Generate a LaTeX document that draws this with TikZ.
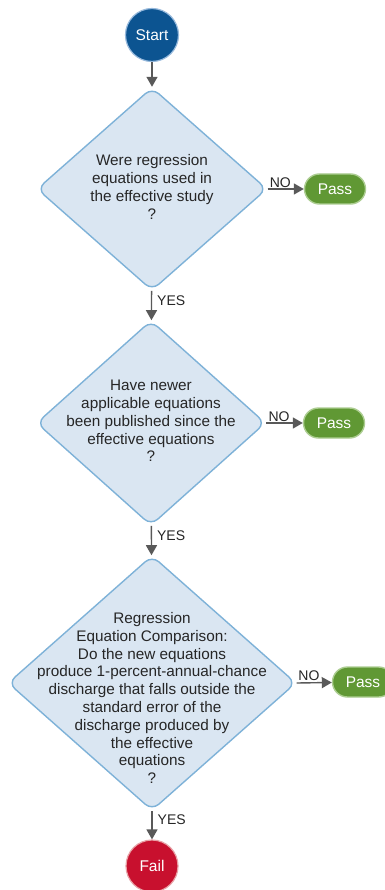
\documentclass[tikz,border=0pt]{standalone}
\usepackage{fontspec}
\setmainfont{Liberation Sans}
\usetikzlibrary{shapes.geometric,shapes.misc,arrows.meta}
\definecolor{startblue}{RGB}{12,84,145}
\definecolor{startedge}{RGB}{150,185,220}
\definecolor{qfill}{RGB}{218,230,242}
\definecolor{qedge}{RGB}{126,178,216}
\definecolor{passgreen}{RGB}{96,152,52}
\definecolor{passedge}{RGB}{172,205,145}
\definecolor{failred}{RGB}{200,16,46}
\definecolor{failedge}{RGB}{232,160,165}
\definecolor{arrowgray}{RGB}{89,89,89}
\tikzset{
  terminal/.style={circle, line width=1.2pt, minimum size=53pt, inner sep=0pt,
    text=white, font=\fontsize{15.5}{18}\selectfont},
  decision/.style={diamond, draw=qedge, fill=qfill, line width=1.4pt,
    rounded corners=9pt, inner sep=0pt},
  qtext/.style={align=center, text=black!85, font=\fontsize{15.3}{17.8}\selectfont},
  pass/.style={rounded rectangle, draw=passedge, fill=passgreen, line width=1.4pt,
    minimum width=61pt, minimum height=30pt, inner sep=0pt,
    text=white, font=\fontsize{15.5}{18}\selectfont},
  flow/.style={draw=arrowgray, line width=1.4pt, -{Triangle[length=10pt,width=11pt]}},
  branch/.style={font=\fontsize{14}{16}\selectfont, text=black!85, inner sep=1pt}
}
\begin{document}
\begin{tikzpicture}[x=1pt,y=-1pt]
  \useasboundingbox (0,0) rectangle (384,890);
  \fill[white] (0,0) rectangle (384,890);

  % start / end terminals
  \node[terminal, draw=startedge, fill=startblue] (start) at (152,35) {Start};
  \node[terminal, draw=failedge, fill=failred, minimum size=52pt] (fail) at (152,866) {Fail};

  % decision diamonds
  \node[decision, minimum width=230pt, minimum height=203pt] (d1) at (152,189) {};
  \node[decision, minimum width=229pt, minimum height=205pt] (d2) at (151,423) {};
  \node[decision, minimum width=288pt, minimum height=255pt] (d3) at (152,683) {};

  \node[qtext] (t1) at (152,187) {Were regression\\equations used in\\the effective study\\?};
  \node[qtext] (t2) at (151,421) {Have newer\\applicable equations\\been published since the\\effective equations\\?};
  \node[qtext] (t3) at (152,698) {Regression\\Equation Comparison:\\Do the new equations\\produce 1-percent-annual-chance\\discharge that falls outside the\\standard error of the\\discharge produced by\\the effective\\equations\\?};

  % pass outcomes
  \node[pass] (p1) at (335,189) {Pass};
  \node[pass] (p2) at (334,423) {Pass};
  \node[pass] (p3) at (363,682) {Pass};

  % main flow
  \draw[flow] (start) -- (d1);
  \draw[flow] (d1) -- node[branch, right, xshift=4pt, pos=0.35] {YES} (d2);
  \draw[flow] (d2) -- node[branch, right, xshift=4pt, pos=0.35] {YES} (d3);
  \draw[flow] (d3) -- node[branch, right, xshift=4pt, pos=0.3] {YES} (fail);

  % side branches
  \draw[flow] (d1.east) -- node[branch, above, pos=0.35] {NO} (p1);
  \draw[flow] (d2.east) -- node[branch, above, pos=0.35] {NO} (p2);
  \draw[flow] (d3.east) -- node[branch, above, pos=0.35] {NO} (p3);
\end{tikzpicture}
\end{document}
